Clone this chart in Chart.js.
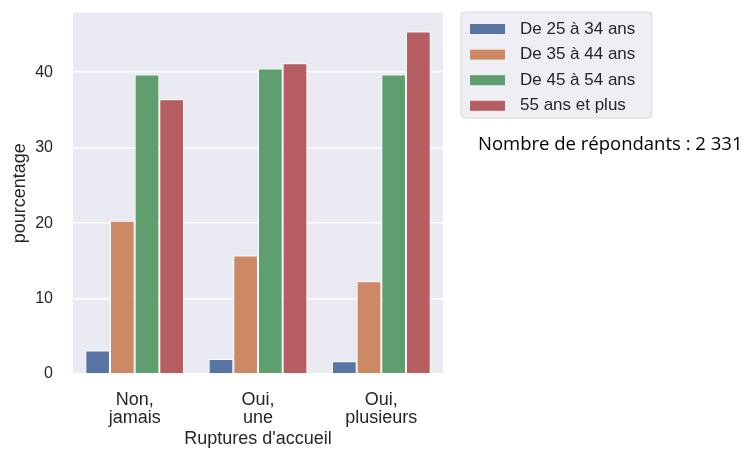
<!DOCTYPE html>
<html>
<head>
<meta charset="utf-8">
<script src="https://cdn.jsdelivr.net/npm/chart.js@4"></script>
<style>
  html, body { margin: 0; padding: 0; background: #fff; }
  #wrap { position: relative; width: 743px; height: 450px; }
</style>
</head>
<body>
<div id="wrap"><canvas id="myChart" width="743" height="450"></canvas></div>
<script>
// categories and series
const categories = [['Non,', 'jamais'], ['Oui,', 'une'], ['Oui,', 'plusieurs']];
const seriesNames = ['De 25 à 34 ans', 'De 35 à 44 ans', 'De 45 à 54 ans', '55 ans et plus'];
const age25_34 = [3.1, 2.0, 1.7];
const age35_44 = [20.3, 15.7, 12.3];
const age45_54 = [39.7, 40.5, 39.7];
const age55plus = [36.4, 41.2, 45.4];
const yTicks = [0, 10, 20, 30, 40];
const respondents = 'Nombre de répondants : 2 331';

const colors = ['#5975A4', '#CC8963', '#5F9E6E', '#B55D60'];
const textColor = '#262626';

// fond gris de la zone de tracé (style seaborn)
const plotBackground = {
    id: 'plotBackground',
    beforeDraw(chart) {
        const {ctx, chartArea: a} = chart;
        ctx.save();
        ctx.fillStyle = '#EAEAF2';
        ctx.fillRect(a.left, a.top, a.right - a.left, a.bottom - a.top);
        ctx.restore();
    }
};

// légende à droite + texte du nombre de répondants
const sideLegend = {
    id: 'sideLegend',
    afterDraw(chart) {
        const ctx = chart.ctx;
        ctx.save();
        const bx = 461, by = 12, bw = 191, bh = 106;
        ctx.beginPath();
        ctx.roundRect(bx, by, bw, bh, 4);
        ctx.fillStyle = '#EEEEF4';
        ctx.fill();
        ctx.strokeStyle = '#D8D8DC';
        ctx.lineWidth = 1;
        ctx.stroke();

        ctx.font = '17px "Liberation Sans", Arial, sans-serif';
        ctx.textBaseline = 'middle';
        chart.data.datasets.forEach((ds, i) => {
            const y = 29 + i * 25.6;
            ctx.fillStyle = ds.backgroundColor;
            ctx.fillRect(470, y - 5, 35, 10);
            ctx.fillStyle = textColor;
            ctx.fillText(ds.label, 520, y);
        });

        ctx.font = '18.5px "Open Sans", sans-serif';
        ctx.fillStyle = '#000';
        ctx.fillText(respondents, 478, 145);
        ctx.restore();
    }
};

const ctx = document.getElementById('myChart').getContext('2d');
const seriesData = [age25_34, age35_44, age45_54, age55plus];

const myChart = new Chart(ctx, {
    type: 'bar',
    data: {
        labels: categories,
        datasets: seriesNames.map((name, i) => ({
            label: name,
            data: seriesData[i],
            backgroundColor: colors[i],
            borderColor: '#ffffff',
            borderWidth: 1,
            categoryPercentage: 0.8,
            barPercentage: 1.0
        }))
    },
    options: {
        responsive: false,
        animation: false,
        layout: {
            padding: { top: 0, right: 300, left: 0, bottom: 0 }
        },
        scales: {
            x: {
                grid: { display: false, drawTicks: false },
                border: { display: false },
                ticks: {
                    color: textColor,
                    padding: 17,
                    maxRotation: 0,
                    font: { family: '"Liberation Sans", Arial, sans-serif', size: 18, lineHeight: 1.0 }
                },
                title: {
                    display: true,
                    text: "Ruptures d'accueil",
                    color: textColor,
                    padding: { top: 0, bottom: 0 },
                    font: { family: '"Liberation Sans", Arial, sans-serif', size: 18, lineHeight: 1.2 }
                },
                afterFit(scale) { scale.height = 76; }
            },
            y: {
                min: 0,
                max: 47.9,
                afterBuildTicks(scale) {
                    scale.ticks = yTicks.map(v => ({ value: v }));
                },
                // tick marks invisibles : ils servent seulement à écarter les libellés
                grid: { color: '#ffffff', lineWidth: 1.5, drawTicks: true, tickLength: 17, tickColor: 'rgba(0,0,0,0)' },
                border: { display: false },
                ticks: {
                    color: textColor,
                    padding: 3,
                    font: { family: '"Liberation Sans", Arial, sans-serif', size: 16 }
                },
                title: {
                    display: true,
                    text: 'pourcentage',
                    color: textColor,
                    padding: { top: 9, bottom: 0 },
                    font: { family: '"Liberation Sans", Arial, sans-serif', size: 18, lineHeight: 1.2 }
                },
                afterFit(scale) { scale.width = 73; }
            }
        },
        plugins: {
            legend: { display: false },
            tooltip: { enabled: false }
        }
    },
    plugins: [plotBackground, sideLegend]
});
</script>
</body>
</html>
